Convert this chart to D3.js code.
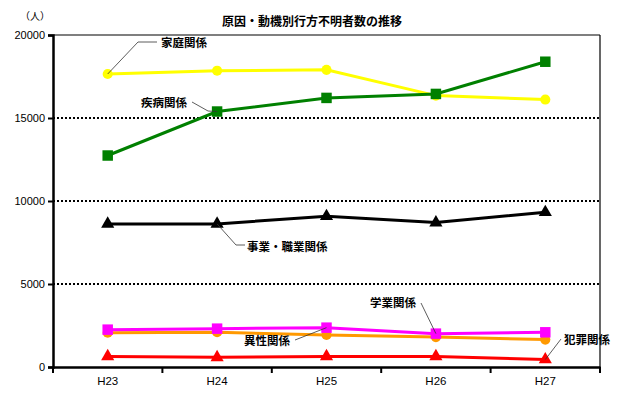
<!DOCTYPE html>
<html>
<head>
<meta charset="utf-8">
<script src="https://cdn.jsdelivr.net/npm/d3@7"></script>
<style>
	body { margin: 0; background: #fff; }
	text { font-family: "Noto Sans CJK JP", "Liberation Sans", sans-serif; }
</style>
</head>
<body>
<div id="chart"></div>
<script>
//Dados
var years = ["H23", "H24", "H25", "H26", "H27"];
var katei = [17650, 17850, 17900, 16350, 16110];
var shippei = [12740, 15390, 16210, 16450, 18390];
var jigyo = [8620, 8620, 9080, 8700, 9320];
var igaku = [2070, 2090, 1930, 1800, 1650];
var gakugyo = [2250, 2310, 2370, 2010, 2090];
var hanzai = [640, 580, 640, 640, 450];
var yTicks = [0, 5000, 10000, 15000, 20000];

var series = [
	{name: "家庭関係", values: katei, color: "#ffff00", shape: "circle"},
	{name: "疾病関係", values: shippei, color: "#008000", shape: "square"},
	{name: "事業・職業関係", values: jigyo, color: "#000000", shape: "triangle"},
	{name: "異性関係", values: igaku, color: "#ff9900", shape: "circle"},
	{name: "学業関係", values: gakugyo, color: "#ff00ff", shape: "square"},
	{name: "犯罪関係", values: hanzai, color: "#ff0000", shape: "triangle"}
];

//Dimensões do gráfico
var margin = {top: 35, right: 27, bottom: 32, left: 53};
var width = 627 - margin.left - margin.right;
var height = 399 - margin.top - margin.bottom;

var x = d3.scaleBand().domain(years).range([0, width]);
var y = d3.scaleLinear().domain([0, 20000]).range([height, 0]);
var cx = function(i) { return x(years[i]) + x.bandwidth() / 2; };

var root = d3.select("#chart").append("svg")
	.attr("width", 627)
	.attr("height", 399);

//Título
root.append("text")
	.attr("x", 312).attr("y", 26)
	.attr("text-anchor", "middle")
	.attr("font-size", 12).attr("font-weight", "bold")
	.text("原因・動機別行方不明者数の推移");
root.append("text")
	.attr("x", 20).attr("y", 20)
	.attr("font-size", 10)
	.text("（人）");

var svg = root.append("g")
	.attr("transform", "translate(" + margin.left + "," + margin.top + ")");

//Linhas de grade
svg.selectAll(".grid")
	.data(yTicks.filter(function(d) { return d > 0 && d < 20000; }))
	.enter().append("line")
	.attr("x1", 0).attr("x2", width)
	.attr("y1", function(d) { return y(d); })
	.attr("y2", function(d) { return y(d); })
	.attr("stroke", "#000").attr("stroke-width", 2)
	.attr("stroke-dasharray", "2,2");

//Borda
svg.append("line").attr("x1", 0).attr("x2", width).attr("y1", 0).attr("y2", 0)
	.attr("stroke", "#000").attr("stroke-width", 1.2);
svg.append("line").attr("x1", width).attr("x2", width).attr("y1", 0).attr("y2", height)
	.attr("stroke", "#000").attr("stroke-width", 1.2);

//Eixo Y
var yAxis = svg.append("g")
	.call(d3.axisLeft(y).tickValues(yTicks).tickSize(5).tickPadding(3).tickFormat(d3.format("d")));
yAxis.select(".domain").attr("stroke-width", 2.5);
yAxis.selectAll(".tick line").attr("stroke-width", 2);
yAxis.selectAll("text").attr("font-size", 11).attr("fill", "#000")
	.style("font-family", "'Liberation Sans', sans-serif");

//Eixo X
var xAxis = svg.append("g")
	.attr("transform", "translate(0," + height + ")")
	.call(d3.axisBottom(x).tickSize(0).tickPadding(10));
xAxis.select(".domain").attr("stroke-width", 2.5);
xAxis.selectAll("text").attr("font-size", 11.5).attr("fill", "#000")
	.style("font-family", "'Liberation Sans', sans-serif");
svg.selectAll(".xtick")
	.data(d3.range(years.length + 1))
	.enter().append("line")
	.attr("x1", function(i) { return i * x.step(); })
	.attr("x2", function(i) { return i * x.step(); })
	.attr("y1", height).attr("y2", height + 6)
	.attr("stroke", "#000").attr("stroke-width", 2);

//Linhas e marcadores
var line = d3.line()
	.x(function(d, i) { return cx(i); })
	.y(function(d) { return y(d); });

var symbolType = {circle: d3.symbolCircle, square: d3.symbolSquare, triangle: d3.symbolTriangle};
var symbolSize = {circle: 80, square: 110, triangle: 75};

series.forEach(function(s) {
	svg.append("path")
		.datum(s.values)
		.attr("fill", "none")
		.attr("stroke", s.color)
		.attr("stroke-width", 3)
		.attr("d", line);
	svg.selectAll(null)
		.data(s.values)
		.enter().append("path")
		.attr("transform", function(d, i) { return "translate(" + cx(i) + "," + y(d) + ")"; })
		.attr("fill", s.color)
		.attr("d", d3.symbol().type(symbolType[s.shape]).size(symbolSize[s.shape]));
});

//Rótulos com linhas de chamada
var labels = [
	{text: "家庭関係", idx: 0, s: 0, tx: 161, ty: 47, pts: [[138, 42], [157, 42]]},
	{text: "疾病関係", idx: 1, s: 1, tx: 141, ty: 107, pts: [[208, 111], [192, 102]]},
	{text: "事業・職業関係", idx: 1, s: 2, tx: 247, ty: 251, pts: [[236, 245], [245, 245]]},
	{text: "異性関係", idx: 2, s: 4, tx: 244, ty: 345, pts: [[295, 340]]},
	{text: "学業関係", idx: 3, s: 4, tx: 370, ty: 307, pts: [[421, 303]]},
	{text: "犯罪関係", idx: 4, s: 5, tx: 564, ty: 344, pts: [[561, 339]]}
];
labels.forEach(function(l) {
	var p0 = [margin.left + cx(l.idx), margin.top + y(series[l.s].values[l.idx])];
	var pts = [p0].concat(l.pts);
	root.append("path")
		.attr("d", d3.line()(pts))
		.attr("fill", "none")
		.attr("stroke", "#333")
		.attr("stroke-width", 0.8);
	root.append("text")
		.attr("x", l.tx).attr("y", l.ty)
		.attr("font-size", 11.5).attr("font-weight", "bold")
		.text(l.text);
});
</script>
</body>
</html>
